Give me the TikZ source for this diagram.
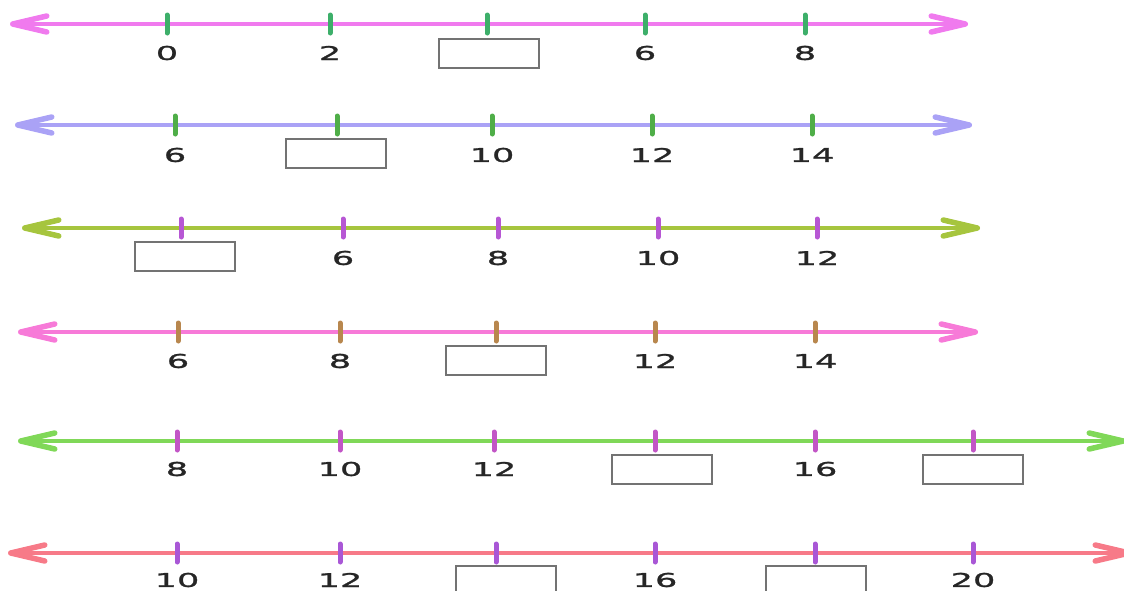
\documentclass[tikz,border=0pt]{standalone}
\usepackage{fontspec}
\setmainfont{DejaVu Sans}[FakeStretch=1.85, FakeBold=1.4]
\usetikzlibrary{arrows.meta}

\definecolor{lineA}{HTML}{F07AEE}
\definecolor{lineB}{HTML}{AAA2F6}
\definecolor{lineC}{HTML}{A6C53E}
\definecolor{lineD}{HTML}{F77AD8}
\definecolor{lineE}{HTML}{80D858}
\definecolor{lineF}{HTML}{F77A88}
\definecolor{tickG}{HTML}{3DAF6A}
\definecolor{tickH}{HTML}{4FAE48}
\definecolor{tickP}{HTML}{B757D4}
\definecolor{tickR}{HTML}{B8874E}
\definecolor{tickM}{HTML}{C256C6}
\definecolor{tickV}{HTML}{A957D6}

\tikzset{
  numline/.style={line width=3.5pt, >={Straight Barb[length=34pt,width=16pt,line width=5.5pt,round]}, <->},
  tickmark/.style={line width=5pt, line cap=round},
  num/.style={text=black!85, font=\fontsize{19}{21}\selectfont, inner sep=0pt},
  blank/.style={draw=black!55, line width=2pt, minimum width=100pt, minimum height=29pt, inner sep=0pt}
}

\begin{document}
\begin{tikzpicture}[x=1pt, y=-1pt]
    \useasboundingbox (0,0) rectangle (1124,590);

    % Line 1
    \coordinate (A1) at (10,24);
    \coordinate (A2) at (968,24);
    \draw[numline, lineA] (A1) -- (A2);
    \foreach \x in {167,330,487,645,805}
        \draw[tickmark, tickG] (\x,15) -- (\x,33);
    \node[num] (a0) at (167,53) {0};
    \node[num] (a2) at (330,53) {2};
    \node[blank] (a4) at (489,53) {};
    \node[num] (a6) at (645,53) {6};
    \node[num] (a8) at (805,53) {8};

    % Line 2
    \coordinate (B1) at (15,125);
    \coordinate (B2) at (972,125);
    \draw[numline, lineB] (B1) -- (B2);
    \foreach \x in {175,337,492,652,812}
        \draw[tickmark, tickH] (\x,116) -- (\x,134);
    \node[num] (b6) at (175,155) {6};
    \node[blank] (b8) at (336,153) {};
    \node[num] (b10) at (492,155) {10};
    \node[num] (b12) at (652,155) {12};
    \node[num] (b14) at (812,155) {14};

    % Line 3
    \coordinate (C1) at (22,228);
    \coordinate (C2) at (980,228);
    \draw[numline, lineC] (C1) -- (C2);
    \foreach \x in {181,343,498,658,817}
        \draw[tickmark, tickP] (\x,219) -- (\x,237);
    \node[blank] (c4) at (185,256) {};
    \node[num] (c6) at (343,258) {6};
    \node[num] (c8) at (498,258) {8};
    \node[num] (c10) at (658,258) {10};
    \node[num] (c12) at (817,258) {12};

    % Line 4
    \coordinate (D1) at (18,332);
    \coordinate (D2) at (978,332);
    \draw[numline, lineD] (D1) -- (D2);
    \foreach \x in {178,340,496,655,815}
        \draw[tickmark, tickR] (\x,323) -- (\x,341);
    \node[num] (d6) at (178,361) {6};
    \node[num] (d8) at (340,361) {8};
    \node[blank] (d10) at (496,360) {};
    \node[num] (d12) at (655,361) {12};
    \node[num] (d14) at (815,361) {14};

    % Line 5
    \coordinate (E1) at (18,441);
    \coordinate (E2) at (1126,441);
    \draw[numline, lineE] (E1) -- (E2);
    \foreach \x in {177,340,494,655,815,973}
        \draw[tickmark, tickM] (\x,432) -- (\x,450);
    \node[num] (e8) at (177,469) {8};
    \node[num] (e10) at (340,469) {10};
    \node[num] (e12) at (494,469) {12};
    \node[blank] (e14) at (662,469) {};
    \node[num] (e16) at (815,469) {16};
    \node[blank] (e18) at (973,469) {};

    % Line 6
    \coordinate (F1) at (8,553);
    \coordinate (F2) at (1132,553);
    \draw[numline, lineF] (F1) -- (F2);
    \foreach \x in {177,340,496,655,815,973}
        \draw[tickmark, tickV] (\x,544) -- (\x,562);
    \node[num] (f10) at (177,580) {10};
    \node[num] (f12) at (340,580) {12};
    \node[blank] (f14) at (506,580) {};
    \node[num] (f16) at (655,580) {16};
    \node[blank] (f18) at (816,580) {};
    \node[num] (f20) at (973,580) {20};
\end{tikzpicture}
\end{document}
